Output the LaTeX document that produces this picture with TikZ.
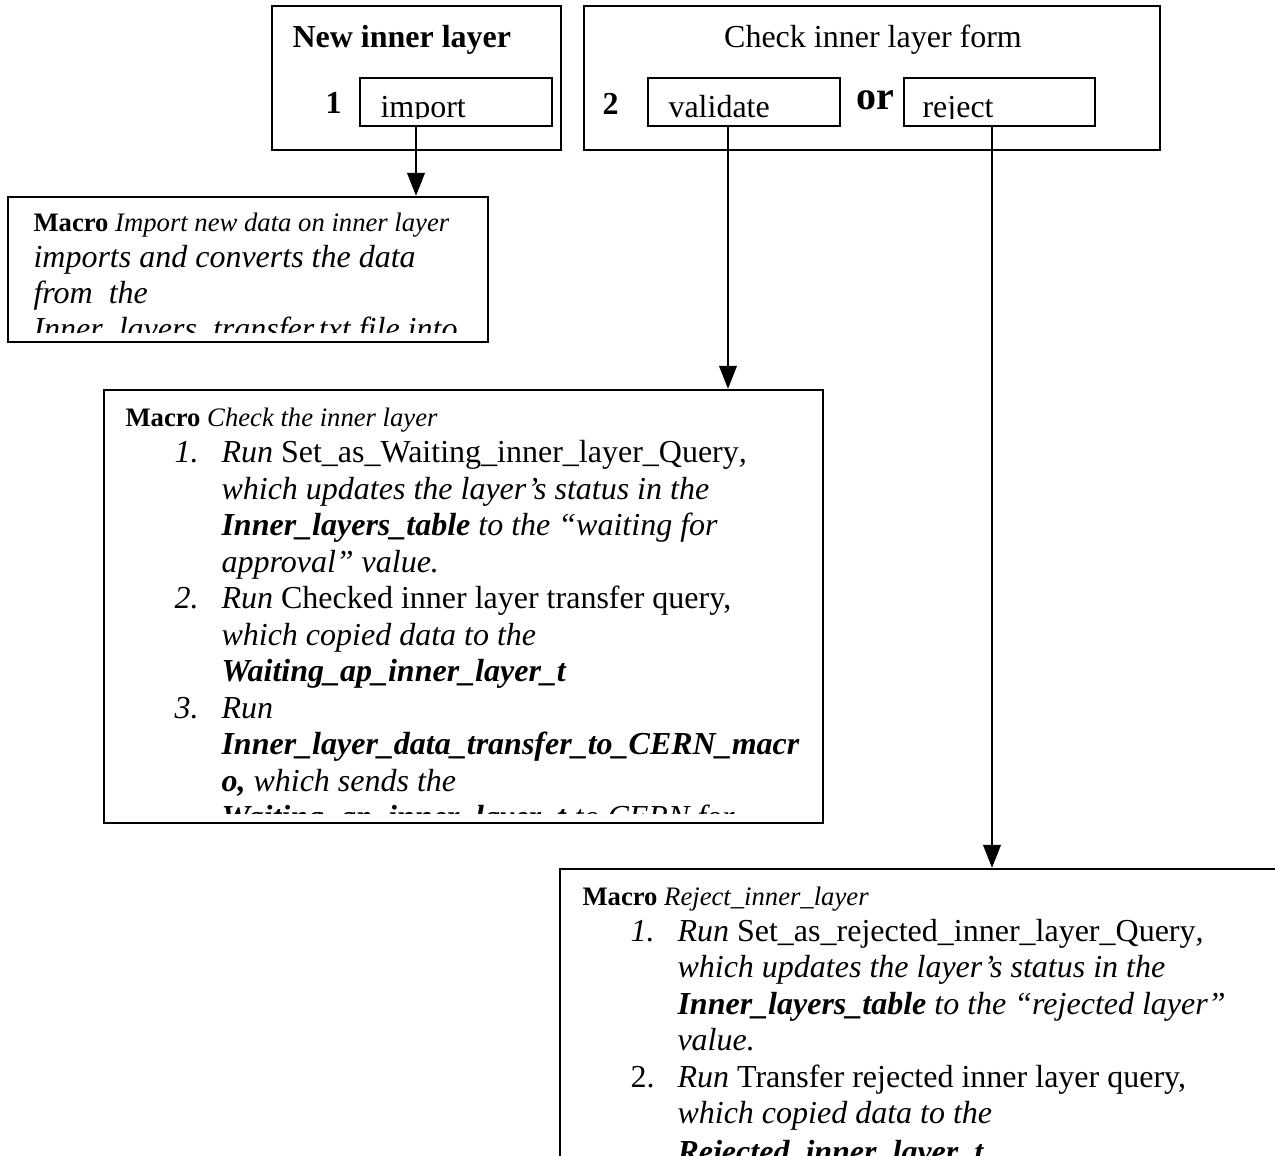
\documentclass[tikz,border=0pt]{standalone}
\usepackage{fontspec}
\setmainfont{Liberation Serif}
\usetikzlibrary{arrows.meta,fit}
\begin{document}
\begin{tikzpicture}[x=0.375pt,y=-0.375pt,
  box/.style={draw, line width=0.9pt, inner sep=0pt},
  txt/.style={anchor=base west, inner sep=0pt, font=\fontsize{12}{14}\selectfont},
  smalltxt/.style={anchor=base west, inner sep=0pt, font=\fontsize{10}{12}\selectfont},
  numtxt/.style={anchor=base west, inner sep=0pt, font=\fontsize{12}{14}\selectfont\itshape},
  arr/.style={line width=0.75pt, -{Triangle[width=6.6pt,length=8.6pt]}}]

\useasboundingbox (0,0) rectangle (1275,1155);
\clip (0,0) rectangle (1275,1155);

% ---- top forms ----
\node[box, fit={(272,6) (561,150)}] (newbox) {};
\node[box, fit={(360,78) (552,126)}] (importbox) {};
\node[box, fit={(584,6) (1160,150)}] (checkbox) {};
\node[box, fit={(648,78) (840,126)}] (validatebox) {};
\node[box, fit={(904,78) (1095,126)}] (rejectbox) {};

\node[txt] (newtitle) at (292,47) {\bfseries New inner layer};
\node[txt] (one) at (325,113) {\bfseries 1};
\node[txt, anchor=base] (checktitle) at (873,47) {Check inner layer form};
\node[txt] (two) at (602,114) {\bfseries 2};
\node[anchor=base west, inner sep=0pt, font=\fontsize{15}{17}\selectfont\bfseries] (orlbl) at (856,109) {or};

\begin{scope}
  \clip (360,78) rectangle (552,118.5);
  \node[txt] (importlbl) at (380,117.5) {import};
\end{scope}
\begin{scope}
  \clip (648,78) rectangle (840,118.5);
  \node[txt] (validatelbl) at (668,117.5) {validate};
\end{scope}
\begin{scope}
  \clip (904,78) rectangle (1095,118.5);
  \node[txt] (rejectlbl) at (922,117.5) {reject};
\end{scope}

% ---- macro boxes ----
\node[box, fit={(8,197) (488,342)}] (macroA) {};
\node[box, fit={(104,390) (823,823)}] (macroB) {};
\node[box, fit={(560,869) (1300,1200)}] (macroC) {};

% import macro
\begin{scope}
  \clip (8,197) rectangle (488,332);
  \node[smalltxt] (a0) at (33,231) {\textbf{Macro} \textit{Import new data on inner layer}};
  \node[txt] (a1) at (33,267) {\textit{imports and converts the data}};
  \node[txt] (a2) at (33,303) {\textit{from\ \ the}};
  \node[txt] (a3) at (33,339) {\textit{Inner\_layers\_transfer.txt file into}};
\end{scope}

% check macro
\begin{scope}
  \clip (104,390) rectangle (823,813);
  \node[smalltxt] (b0) at (125,426) {\textbf{Macro} \textit{Check the inner layer}};
  \node[numtxt] (bn1) at (174,462.5) {1.};
  \node[txt] (b1) at (221,462.5) {\textit{Run} Set\_as\_Waiting\_inner\_layer\_Query\textit{,}};
  \node[txt] (b2) at (221,499) {\textit{which updates the layer’s status in the}};
  \node[txt] (b3) at (221,535.5) {\textbf{\textit{Inner\_layers\_table}} \textit{to the “waiting for}};
  \node[txt] (b4) at (221,572) {\textit{approval” value.}};
  \node[numtxt] (bn2) at (174,608.5) {2.};
  \node[txt] (b5) at (221,608.5) {\textit{Run} Checked inner layer transfer query,};
  \node[txt] (b6) at (221,645) {\textit{which copied data to the}};
  \node[txt] (b7) at (221,681.5) {\textbf{\textit{Waiting\_ap\_inner\_layer\_t}}};
  \node[numtxt] (bn3) at (174,718) {3.};
  \node[txt] (b8) at (221,718) {\textit{Run}};
  \node[txt] (b9) at (221,754.5) {\textbf{\textit{Inner\_layer\_data\_transfer\_to\_CERN\_macr}}};
  \node[txt] (b10) at (221,791) {\textbf{\textit{o,}} \textit{which sends the}};
  \node[txt] (b11) at (221,827.5) {\textbf{\textit{Waiting\_ap\_inner\_layer\_t}} \textit{to CERN for}};
\end{scope}

% reject macro
\begin{scope}
  \clip (560,869) rectangle (1275,1155);
  \node[smalltxt] (c0) at (582,905) {\textbf{Macro} \textit{Reject\_inner\_layer}};
  \node[numtxt] (cn1) at (630,941) {1.};
  \node[txt] (c1) at (677,941) {\textit{Run} Set\_as\_rejected\_inner\_layer\_Query\textit{,}};
  \node[txt] (c2) at (677,977.5) {\textit{which updates the layer’s status in the}};
  \node[txt] (c3) at (677,1014) {\textbf{\textit{Inner\_layers\_table}} \textit{to the “rejected layer”}};
  \node[txt] (c4) at (677,1050.5) {\textit{value.}};
  \node[txt] (cn2) at (630,1087) {2.};
  \node[txt] (c5) at (677,1087) {\textit{Run} Transfer rejected inner layer query,};
  \node[txt] (c6) at (677,1123.5) {\textit{which copied data to the}};
  \node[txt] (c7) at (677,1162) {\textbf{\textit{Rejected\_inner\_layer\_t}}};
\end{scope}

% ---- connectors ----
\coordinate (xa) at (416,0);
\coordinate (xb) at (728,0);
\coordinate (xc) at (992,0);
\draw[arr] (importbox.south -| xa) -- (macroA.north -| xa);
\draw[arr] (validatebox.south -| xb) -- (macroB.north -| xb);
\draw[arr] (rejectbox.south -| xc) -- (macroC.north -| xc);

\end{tikzpicture}
\end{document}
